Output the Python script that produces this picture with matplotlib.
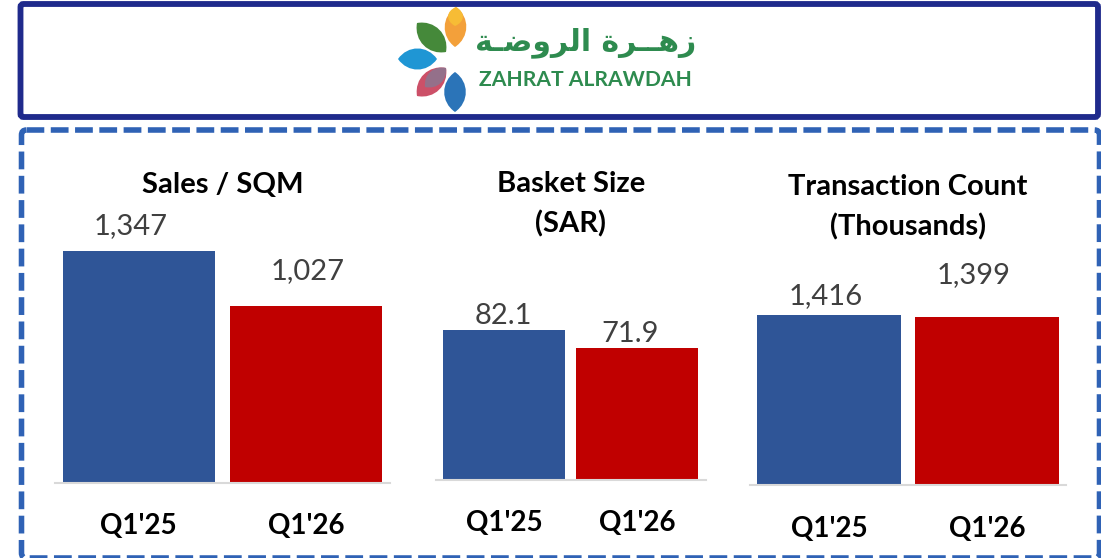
import matplotlib
matplotlib.use("Agg")
import matplotlib.pyplot as plt
from matplotlib.patches import FancyBboxPatch, PathPatch
from matplotlib.path import Path

plt.rcParams['font.family'] = ['Lato', 'DejaVu Sans']

W, H = 1101, 558

periods = ["Q1'25", "Q1'26"]
sales_sqm = [1347, 1027]
basket_size = [82.1, 71.9]
transactions = [1416, 1399]

blue = "#2F5597"
red = "#C00000"
green = "#2E8B4F"
navy = "#1F2A8C"
dash_blue = "#2F62B5"

# zahrat alrawdah in presentation forms, left to right, matplotlib does no shaping
arabic_name = "\uFE94\u0640\uFEBF\uFEED\uFEAE\uFEDF\uFE8D \uFE93\uFEAE\u0640\u0640\uFEEB\uFEAF"
latin_name = "ZAHRAT ALRAWDAH"


def px_axes(fig, left, right, top, bottom):
    return fig.add_axes([left / W, 1 - bottom / H, (right - left) / W, (bottom - top) / H])


def petal(ax, p0, p1, bulge, color, zorder=2):
    # leaf shape between two tips
    dx, dy = p1[0] - p0[0], p1[1] - p0[1]
    a1 = (p0[0] + dx * 0.25 - dy * bulge, p0[1] + dy * 0.25 + dx * bulge)
    a2 = (p0[0] + dx * 0.75 - dy * bulge, p0[1] + dy * 0.75 + dx * bulge)
    b1 = (p0[0] + dx * 0.75 + dy * bulge, p0[1] + dy * 0.75 - dx * bulge)
    b2 = (p0[0] + dx * 0.25 + dy * bulge, p0[1] + dy * 0.25 - dx * bulge)
    path = Path([p0, a1, a2, p1, b1, b2, p0],
                [Path.MOVETO, Path.CURVE4, Path.CURVE4, Path.CURVE4, Path.CURVE4, Path.CURVE4, Path.CURVE4])
    ax.add_patch(PathPatch(path, facecolor=color, edgecolor="none", zorder=zorder))


fig = plt.figure(figsize=(W / 100, H / 100), dpi=100, facecolor="white")

bg = fig.add_axes([0, 0, 1, 1])
bg.set_xlim(0, W)
bg.set_ylim(H, 0)
bg.axis("off")

bg.add_patch(FancyBboxPatch((20.5, 4), 1077.5, 113, boxstyle="round,pad=0,rounding_size=3",
                            facecolor="none", edgecolor=navy, linewidth=4.2))
bg.add_patch(FancyBboxPatch((21.5, 130), 1078, 428, boxstyle="round,pad=0,rounding_size=5",
                            facecolor="none", edgecolor=dash_blue, linewidth=4.0,
                            linestyle=(0, (3.2, 1.17))))

# logo
petal(bg, (456, 7), (455, 47), 0.36, "#F3A03A")
petal(bg, (456, 7), (455, 26), 0.52, "#F7BC35", 3)
petal(bg, (417, 23), (446, 52), 0.36, "#45893A")
petal(bg, (398, 59), (437, 59), 0.36, "#1F96D4")
petal(bg, (417, 96), (446, 68), 0.36, "#CC5068")
petal(bg, (446, 68), (425, 87), 0.36, "#94708A", 3)
petal(bg, (455, 72), (455, 112), 0.36, "#2B74B8")
bg.text(585.5, 43, arabic_name, family="DejaVu Sans", fontweight="bold", fontsize=21.5, color=green,
        ha="center", va="center")
bg.text(585, 80, latin_name, fontsize=15.2, fontweight="bold", color=green, ha="center", va="center")

# data label offsets from the top centre of each bar, in pixels
charts = [
    (sales_sqm, 55, 390, 482.5, 231.5, (-0.5, 1.5), 0.91, ["Sales / SQM"], [185], [(-8, 12), (1, 22)]),
    (basket_size, 436, 706, 479.5, 150, (-0.511, 1.519), 0.917, ["Basket Size", "(SAR)"], [184, 224],
     [(-1, 0), (-7, 1)]),
    (transactions, 750, 1066, 485, 170, (-0.5, 1.5), 0.91, ["Transaction Count", "(Thousands)"], [187, 227],
     [(-3, 6), (-13, 29)]),
]

for values, left, right, base, first_px, xlim, bar_w, title_lines, title_y, offsets in charts:
    top = 230
    ax = px_axes(fig, left, right, top, base)
    ax.patch.set_alpha(0)
    ax.set_xlim(*xlim)
    ax.set_ylim(0, values[0] * (base - top) / first_px)
    ax.bar([0, 1], values, width=bar_w, color=[blue, red])
    for i, v in enumerate(values):
        ax.annotate("{:,}".format(v), (i, v), xytext=(offsets[i][0] * 0.72, offsets[i][1] * 0.72),
                    textcoords="offset points", ha="center", va="bottom", fontsize=21,
                    color="#404040", annotation_clip=False)
    ax.set_xticks([0, 1], periods, fontsize=20, fontweight="bold", color="black")
    ax.tick_params(axis="x", length=0, pad=22)
    ax.set_yticks([])
    for side in ["top", "left", "right"]:
        ax.spines[side].set_visible(False)
    ax.spines["bottom"].set_color("#D9D9D9")
    ax.spines["bottom"].set_linewidth(1.5)
    for line, y in zip(title_lines, title_y):
        bg.text((left + right) / 2, y, line, fontsize=21, fontweight="bold", color="black",
                ha="center", va="center")

fig.savefig("out.png", dpi=100)
